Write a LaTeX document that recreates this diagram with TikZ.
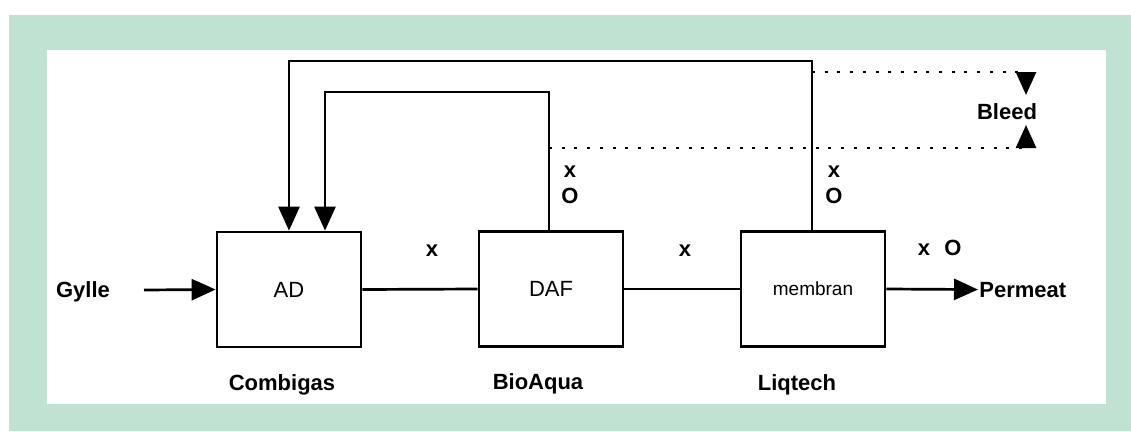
\documentclass[tikz,border=0pt]{standalone}
\usepackage{fontspec}
\setmainfont{Liberation Sans}
\usetikzlibrary{arrows.meta}
\definecolor{mint}{HTML}{BFE2D3}

\begin{document}
\begin{tikzpicture}[x=1pt, y=-1pt, line width=2.7pt,
    unit/.style={draw, minimum width=144pt, minimum height=115pt, font=\fontsize{22}{26}\selectfont},
    lbl/.style={inner sep=0pt, anchor=base, font=\fontsize{22}{26}\selectfont\bfseries},
    flow/.style={-{Triangle[length=24pt, width=21pt]}},
    bleedline/.style={line width=2.2pt, dash pattern=on 3pt off 9.7pt}]
    % Frame
    \useasboundingbox (0,0) rectangle (1131,431);
    \fill[mint] (9,15) rectangle (1131,431);
    \fill[white] (47,50) rectangle (1106,404);

    % Process units
    \node[unit] (ad) at (289,289.5) {AD};
    \node[unit] (daf) at (551,289) {DAF};
    \node[unit, font=\fontsize{19}{22}\selectfont] (mem) at (813,289) {membran};

    % Suppliers
    \node[lbl] (combi) at (282,390) {Combigas};
    \node[lbl] (bio) at (538,389) {BioAqua};
    \node[lbl] (liq) at (797,390) {Liqtech};

    % Inlet and outlet
    \node[lbl] (gylle) at (83,297) {Gylle};
    \node[lbl, anchor=base west] (perm) at (978,297) {Permeat};
    \coordinate (gin) at (144,290);
    \draw[flow] (gin) -- (ad.west);
    \draw (ad.east) -- (daf.west);
    \draw (daf.east) -- (mem.west);
    \draw[flow] (mem.east) -- (perm.west);

    % Recycle loops
    \draw[flow] ([xshift=-2pt]daf.north) |- (325,92) -- ([xshift=36pt]ad.north);
    \draw[flow] ([xshift=-1pt]mem.north) |- (289,61) -- (ad.north);

    % Bleed
    \coordinate (bl1) at (1026,72);
    \coordinate (bl2) at (1026,148);
    \node[lbl] (bleed) at (1007,119) {Bleed};
    \draw[bleedline] ([xshift=-1pt]mem.north |- bl1) -- (bl1);
    \draw[bleedline] ([xshift=-2pt]daf.north |- bl2) -- (bl2);
    \draw[-{Triangle[length=23pt, width=20pt]}] (bl1) -- (1026,95);
    \draw[-{Triangle[length=23pt, width=20pt]}] (bl2) -- (1026,125);

    % Stream components
    \node[lbl] (x1) at (432,256) {x};
    \node[lbl] (x2) at (685,256) {x};
    \node[lbl] (x3) at (570,177) {x};
    \node[lbl] (o3) at (570,203) {O};
    \node[lbl] (x4) at (834,177) {x};
    \node[lbl] (o4) at (834,203) {O};
    \node[lbl] (x5) at (924,255) {x};
    \node[lbl] (o5) at (953,255) {O};
\end{tikzpicture}
\end{document}
